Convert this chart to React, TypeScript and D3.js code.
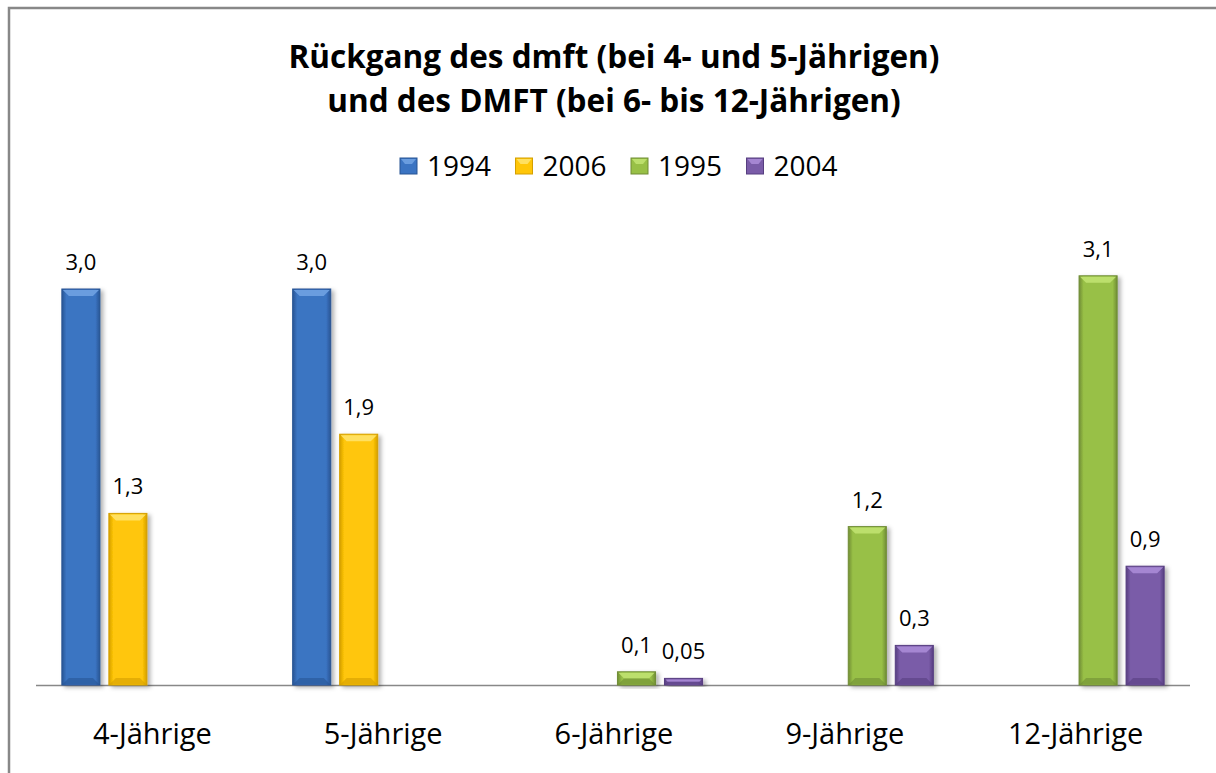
import React from "react";
import { scaleBand, scaleLinear } from "d3";

const categories = ["4-Jährige", "5-Jährige", "6-Jährige", "9-Jährige", "12-Jährige"];
const seriesKeys = ["1994", "2006", "1995", "2004"];
// values per series, null = no bar for that age group
const v1994 = [3.0, 3.0, null, null, null];
const v2006 = [1.3, 1.9, null, null, null];
const v1995 = [null, null, 0.1, 1.2, 3.1];
const v2004 = [null, null, 0.05, 0.3, 0.9];
const labels1994 = ["3,0", "3,0", "", "", ""];
const labels2006 = ["1,3", "1,9", "", "", ""];
const labels1995 = ["", "", "0,1", "1,2", "3,1"];
const labels2004 = ["", "", "0,05", "0,3", "0,9"];
const titleLines = ["Rückgang des dmft (bei 4- und 5-Jährigen)", "und des DMFT (bei 6- bis 12-Jährigen)"];

const colors = {
  "1994": { main: "#3b74c2", light: "#6a9ddf", dark: "#285594" },
  "2006": { main: "#ffc608", light: "#ffe060", dark: "#d49f00" },
  "1995": { main: "#98c046", light: "#bcdf6c", dark: "#708d35" },
  "2004": { main: "#7a5ca8", light: "#a586d2", dark: "#573e80" },
};

const W = 1216;
const H = 773;
const baseY = 685;
const font = "'Open Sans', sans-serif";

const App = () => {
  const valueMap = { "1994": v1994, "2006": v2006, "1995": v1995, "2004": v2004 };
  const labelMap = { "1994": labels1994, "2006": labels2006, "1995": labels1995, "2004": labels2004 };

  const x0 = scaleBand().domain(categories).range([36, 1190]).padding(0);
  const x1 = scaleBand()
    .domain(seriesKeys)
    .range([0, x0.bandwidth()])
    .paddingInner(0.19)
    .paddingOuter(0.55);
  const y = scaleLinear().domain([0, 3.5]).range([baseY, baseY - 462]);

  const bw = x1.bandwidth();
  const bev = 7;

  const bars = [];
  categories.forEach((c, ci) => {
    seriesKeys.forEach((k) => {
      const val = valueMap[k][ci];
      if (val == null) return;
      bars.push({ c, k, val, label: labelMap[k][ci] });
    });
  });

  return (
    <svg width={W} height={H} style={{ display: "block", position: "absolute", left: 0, top: 0 }}>
      <defs>
        {seriesKeys.map((k) => (
          <linearGradient key={k} id={"g" + k} x1="0" x2="1" y1="0" y2="0">
            <stop offset="0" stopColor={colors[k].dark} />
            <stop offset="0.12" stopColor={colors[k].main} />
            <stop offset="0.88" stopColor={colors[k].main} />
            <stop offset="1" stopColor={colors[k].dark} />
          </linearGradient>
        ))}
        <filter id="shadow" x="-20%" y="-20%" width="150%" height="150%">
          <feDropShadow dx="3" dy="2" stdDeviation="2" floodColor="#000" floodOpacity="0.3" />
        </filter>
      </defs>
      <rect x={0} y={0} width={W} height={H} fill="#fff" />
      {/* frame */}
      <path d={`M9,${H} L9,8 L${W},8`} fill="none" stroke="#888" strokeWidth={2.5} />

      {/* title */}
      <text x={614} y={68} textAnchor="middle" fontFamily={font} fontWeight="bold" fontSize={31.5} fill="#000">
        {titleLines[0]}
      </text>
      <text x={614} y={112} textAnchor="middle" fontFamily={font} fontWeight="bold" fontSize={31.5} fill="#000">
        {titleLines[1]}
      </text>

      {/* legend */}
      {seriesKeys.map((k, i) => {
        const lx = 400 + i * 115.5;
        return (
          <g key={k}>
            <rect x={lx} y={158} width={17} height={16} fill={colors[k].main} stroke={colors[k].dark} strokeWidth={1} />
            <polygon
              points={`${lx + 1},159 ${lx + 16},159 ${lx + 12},164 ${lx + 5},164`}
              fill={colors[k].light}
            />
            <text x={lx + 27} y={176} fontFamily={font} fontSize={28} fill="#000">
              {k}
            </text>
          </g>
        );
      })}

      {/* axis line */}
      <line x1={36} x2={1190} y1={baseY + 0.5} y2={baseY + 0.5} stroke="#888" strokeWidth={1.5} />

      {/* bars */}
      {bars.map((b) => {
        const bx = x0(b.c) + x1(b.k);
        const by = y(b.val);
        const h = baseY - by;
        const e = Math.min(bev, h / 2);
        const col = colors[b.k];
        return (
          <g key={b.c + b.k}>
            <rect x={bx} y={by} width={bw} height={h} fill={"url(#g" + b.k + ")"} filter="url(#shadow)" stroke={col.dark} strokeWidth={1} />
            <polygon
              points={`${bx + 1},${by + 1} ${bx + bw - 1},${by + 1} ${bx + bw - e},${by + e} ${bx + e},${by + e}`}
              fill={col.light}
            />
            <polygon
              points={`${bx + 1},${baseY - 1} ${bx + bw - 1},${baseY - 1} ${bx + bw - e},${baseY - e} ${bx + e},${baseY - e}`}
              fill={col.dark}
              opacity={0.6}
            />
            <text
              x={bx + bw / 2}
              y={by - 19}
              textAnchor="middle"
              fontFamily={font}
              fontSize={22}
              fill="#000"
            >
              {b.label}
            </text>
          </g>
        );
      })}

      {/* category labels */}
      {categories.map((c) => (
        <text
          key={c}
          x={x0(c) + x0.bandwidth() / 2 + 1}
          y={744}
          textAnchor="middle"
          fontFamily={font}
          fontSize={29}
          fill="#000"
        >
          {c}
        </text>
      ))}
    </svg>
  );
};

export default App;
